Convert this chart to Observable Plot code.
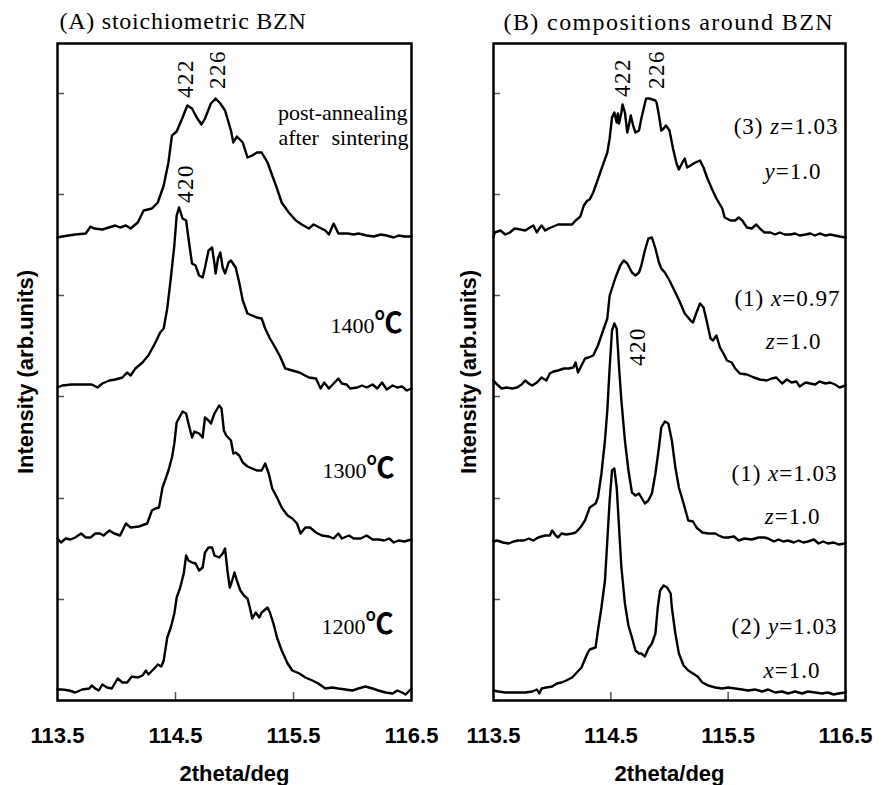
<!DOCTYPE html>
<html><head><meta charset="utf-8">
<script src="https://cdn.jsdelivr.net/npm/d3@7"></script>
<script src="https://cdn.jsdelivr.net/npm/@observablehq/plot@0.6"></script>
<style>
body{margin:0;background:#fff;}
#wrap{display:flex;width:884px;height:785px;}
g[aria-description="title-a"] text{letter-spacing:0.75px}
g[aria-description="title-b"] text{letter-spacing:1.4px}
g[aria-description="peak-labels"] text{letter-spacing:1.5px}
g[aria-description="sample-labels-b"] text{letter-spacing:1px}
</style></head><body><div id="wrap"></div>
<script>
// ---- axes ----
const xTicks = [113.5, 114.5, 115.5, 116.5];
const yTicks = [0, 101, 202, 304, 405, 506, 607];
const xLabel = "2theta/deg";
const yLabel = "Intensity (arb.units)";
const titleA = "(A) stoichiometric BZN";
const titleB = "(B) compositions around BZN";

// ---- panel A: stoichiometric BZN (2theta, stacked intensity) ----
const A_post = [[113.50,463],[113.54,464],[113.65,466],[113.74,467],[113.78,474],[113.81,472],[113.88,471],[113.99,475],[114.03,473],[114.08,475],[114.12,472],[114.18,478],[114.23,490],[114.30,492],[114.35,498],[114.40,515],[114.44,538],[114.47,565],[114.51,569],[114.56,583],[114.60,595],[114.64,592],[114.68,583],[114.72,576],[114.75,582],[114.80,597],[114.84,602],[114.88,597],[114.92,590],[114.97,570],[114.99,558],[115.02,564],[115.07,558],[115.11,543],[115.15,545],[115.19,548],[115.23,548],[115.28,538],[115.32,525],[115.36,512],[115.40,498],[115.46,488],[115.52,480],[115.57,476],[115.63,472],[115.67,476],[115.72,473],[115.77,470],[115.80,466],[115.84,477],[115.88,467],[115.96,467],[116.01,466],[116.05,467],[116.12,465],[116.18,464],[116.24,466],[116.29,465],[116.35,463],[116.39,465],[116.44,464],[116.50,464]];
const A_1400 = [[113.50,313],[113.54,315],[113.62,316],[113.74,316],[113.79,316],[113.84,313],[113.88,317],[113.94,320],[113.99,321],[114.05,323],[114.09,328],[114.12,325],[114.16,332],[114.22,338],[114.27,345],[114.33,358],[114.37,368],[114.40,372],[114.43,392],[114.46,422],[114.49,455],[114.51,485],[114.53,493],[114.56,482],[114.59,480],[114.61,462],[114.64,437],[114.67,435],[114.70,425],[114.73,423],[114.75,433],[114.78,450],[114.81,453],[114.83,437],[114.84,427],[114.86,442],[114.88,448],[114.90,433],[114.92,427],[114.95,438],[114.97,440],[115.01,433],[115.04,418],[115.07,400],[115.11,387],[115.15,385],[115.19,383],[115.23,382],[115.26,372],[115.30,362],[115.35,352],[115.39,343],[115.43,332],[115.49,330],[115.55,328],[115.63,323],[115.69,322],[115.73,312],[115.76,318],[115.80,312],[115.84,317],[115.88,322],[115.91,317],[115.95,316],[115.98,312],[116.04,313],[116.08,315],[116.12,313],[116.17,316],[116.21,312],[116.25,318],[116.29,311],[116.34,315],[116.38,313],[116.42,314],[116.46,310],[116.50,312]];
const A_1300 = [[113.50,162],[113.53,158],[113.57,162],[113.61,161],[113.65,163],[113.70,167],[113.74,163],[113.78,163],[113.82,167],[113.86,167],[113.89,165],[113.94,170],[113.98,167],[114.03,165],[114.08,177],[114.12,173],[114.19,174],[114.26,177],[114.30,190],[114.33,192],[114.36,193],[114.39,213],[114.42,223],[114.44,230],[114.47,243],[114.49,257],[114.51,278],[114.56,289],[114.59,287],[114.61,277],[114.64,263],[114.66,269],[114.70,267],[114.73,263],[114.75,283],[114.78,280],[114.80,277],[114.83,287],[114.87,295],[114.89,292],[114.91,270],[114.93,265],[114.97,260],[114.99,247],[115.01,248],[115.04,245],[115.07,238],[115.11,234],[115.15,232],[115.19,230],[115.23,230],[115.26,237],[115.29,227],[115.32,212],[115.36,203],[115.40,193],[115.45,185],[115.49,182],[115.53,177],[115.56,167],[115.60,173],[115.64,173],[115.69,168],[115.74,165],[115.80,164],[115.84,162],[115.88,167],[115.91,162],[115.97,165],[116.01,162],[116.07,162],[116.12,165],[116.17,161],[116.22,161],[116.27,160],[116.31,162],[116.35,158],[116.39,160],[116.44,159],[116.50,161]];
const A_1200 = [[113.50,11],[113.54,11],[113.60,10],[113.65,8],[113.71,11],[113.77,12],[113.79,15],[113.82,12],[113.85,10],[113.88,16],[113.92,13],[113.96,12],[114.01,22],[114.05,18],[114.09,18],[114.13,24],[114.18,23],[114.22,25],[114.25,30],[114.27,26],[114.32,32],[114.35,36],[114.38,34],[114.40,40],[114.43,63],[114.46,73],[114.49,87],[114.51,103],[114.54,113],[114.57,127],[114.59,145],[114.61,140],[114.64,138],[114.67,137],[114.70,130],[114.73,133],[114.75,148],[114.78,153],[114.81,153],[114.83,145],[114.87,143],[114.90,147],[114.92,152],[114.94,130],[114.96,113],[114.98,120],[115.00,128],[115.02,120],[115.05,110],[115.08,105],[115.11,102],[115.13,93],[115.15,82],[115.18,88],[115.21,83],[115.23,88],[115.28,93],[115.30,88],[115.33,77],[115.36,63],[115.40,50],[115.45,37],[115.49,30],[115.55,27],[115.60,23],[115.66,20],[115.71,17],[115.77,12],[115.83,13],[115.88,12],[115.94,11],[116.00,10],[116.05,12],[116.11,14],[116.17,12],[116.22,10],[116.28,8],[116.34,7],[116.38,10],[116.42,8],[116.45,6],[116.50,12]];

// ---- panel B: compositions around BZN ----
const B_z103 = [[113.50,463],[113.51,468],[113.56,470],[113.60,466],[113.64,468],[113.68,472],[113.73,471],[113.77,470],[113.81,473],[113.84,475],[113.87,468],[113.89,472],[113.91,475],[113.94,470],[113.97,472],[114.01,474],[114.05,476],[114.14,476],[114.17,476],[114.20,480],[114.24,484],[114.27,495],[114.30,500],[114.32,501],[114.35,508],[114.38,518],[114.41,528],[114.44,538],[114.47,548],[114.49,562],[114.51,583],[114.53,588],[114.55,578],[114.56,587],[114.57,577],[114.59,588],[114.60,596],[114.62,588],[114.64,568],[114.65,573],[114.67,585],[114.69,575],[114.71,568],[114.74,570],[114.76,582],[114.78,592],[114.80,602],[114.83,602],[114.88,600],[114.89,598],[114.91,585],[114.93,570],[114.95,572],[114.97,575],[115.00,570],[115.03,552],[115.06,537],[115.08,531],[115.11,538],[115.13,542],[115.15,533],[115.18,535],[115.22,538],[115.26,540],[115.29,533],[115.32,523],[115.36,512],[115.40,502],[115.45,492],[115.47,483],[115.52,480],[115.56,480],[115.59,483],[115.62,480],[115.66,473],[115.70,472],[115.74,476],[115.77,472],[115.81,468],[115.86,468],[115.90,466],[115.94,468],[115.98,466],[116.03,466],[116.07,467],[116.11,465],[116.16,466],[116.20,467],[116.24,465],[116.28,467],[116.33,465],[116.37,466],[116.41,465],[116.45,464],[116.50,463]];
const B_x097 = [[113.50,320],[113.53,316],[113.57,312],[113.61,313],[113.66,312],[113.70,313],[113.74,316],[113.77,320],[113.80,317],[113.83,315],[113.87,318],[113.91,323],[113.95,320],[113.98,327],[114.01,329],[114.05,330],[114.10,332],[114.14,332],[114.18,333],[114.20,338],[114.22,328],[114.25,335],[114.28,342],[114.31,343],[114.35,345],[114.39,355],[114.44,372],[114.47,382],[114.49,405],[114.54,423],[114.58,435],[114.61,440],[114.64,437],[114.68,428],[114.71,425],[114.74,428],[114.76,435],[114.79,450],[114.82,462],[114.85,463],[114.88,452],[114.91,438],[114.93,432],[114.96,428],[115.00,420],[115.05,408],[115.09,398],[115.13,387],[115.18,380],[115.20,378],[115.23,388],[115.26,397],[115.29,393],[115.32,378],[115.35,362],[115.37,360],[115.40,365],[115.43,353],[115.46,347],[115.49,340],[115.53,338],[115.56,332],[115.60,327],[115.66,326],[115.72,323],[115.77,321],[115.83,320],[115.87,322],[115.91,323],[115.96,317],[116.00,321],[116.04,318],[116.08,319],[116.11,314],[116.16,318],[116.20,317],[116.24,316],[116.28,319],[116.33,317],[116.37,318],[116.41,316],[116.45,313],[116.50,315]];
const B_x103 = [[113.50,159],[113.53,160],[113.58,158],[113.63,157],[113.67,159],[113.71,160],[113.76,160],[113.80,162],[113.84,160],[113.88,163],[113.94,165],[113.98,165],[114.00,170],[114.03,165],[114.05,163],[114.08,167],[114.12,166],[114.17,167],[114.20,168],[114.24,173],[114.28,180],[114.32,193],[114.37,197],[114.39,203],[114.42,227],[114.45,260],[114.47,290],[114.49,333],[114.51,370],[114.53,377],[114.55,372],[114.57,333],[114.59,300],[114.62,260],[114.65,230],[114.68,208],[114.71,205],[114.74,207],[114.76,203],[114.79,197],[114.82,200],[114.85,207],[114.88,227],[114.91,253],[114.93,273],[114.96,279],[114.99,277],[115.02,260],[115.05,233],[115.08,213],[115.12,197],[115.16,180],[115.20,179],[115.23,173],[115.28,168],[115.33,167],[115.39,167],[115.42,165],[115.46,163],[115.50,163],[115.55,164],[115.59,160],[115.64,162],[115.70,161],[115.76,163],[115.81,163],[115.84,162],[115.89,159],[115.93,161],[115.97,159],[116.01,160],[116.06,158],[116.10,160],[116.14,158],[116.18,159],[116.23,161],[116.27,157],[116.31,159],[116.35,157],[116.40,158],[116.44,156],[116.50,157]];
const B_y103 = [[113.50,10],[113.54,9],[113.60,8],[113.66,8],[113.71,8],[113.77,8],[113.83,9],[113.87,11],[113.89,7],[113.91,12],[113.95,13],[114.00,14],[114.04,17],[114.08,18],[114.12,20],[114.17,23],[114.21,28],[114.25,33],[114.30,47],[114.32,51],[114.37,53],[114.39,70],[114.42,93],[114.45,120],[114.47,160],[114.49,200],[114.51,230],[114.53,232],[114.55,213],[114.57,173],[114.59,133],[114.62,97],[114.65,75],[114.68,63],[114.71,50],[114.74,47],[114.76,47],[114.79,44],[114.82,52],[114.85,57],[114.88,67],[114.90,93],[114.92,110],[114.95,115],[114.98,113],[115.01,107],[115.02,93],[115.05,67],[115.08,47],[115.12,35],[115.16,30],[115.20,27],[115.24,24],[115.28,18],[115.33,15],[115.39,13],[115.45,12],[115.50,13],[115.56,12],[115.62,11],[115.67,10],[115.73,11],[115.79,9],[115.84,11],[115.90,8],[115.96,9],[116.01,7],[116.07,9],[116.13,7],[116.18,9],[116.24,8],[116.30,7],[116.35,8],[116.40,6],[116.44,7],[116.50,8]];

// ---- annotations (anchored in data units) ----
const peakLabelsA = [{x:114.585,y:622,text:"422"},{x:114.860,y:631,text:"226"},{x:114.585,y:517,text:"420"}];
const peakLabelsB = [{x:114.599,y:623,text:"422"},{x:114.889,y:631,text:"226"},{x:114.727,y:354,text:"420"}];
const sampleEndA = [{x:116.466,y:581,text:"post-annealing"},{x:116.475,y:556,text:"sintering"}];
const sampleStartA = [{x:115.373,y:556,text:"after"}];
const tempLabelsA = [{x:116.424,y:368,text:"1400℃"},{x:116.356,y:223,text:"1300℃"},{x:116.347,y:67,text:"1200℃"}];
const sampleLabelsB = [
  {x:116.440,y:567,text:"(3) z=1.03"},{x:116.295,y:522,text:"y=1.0"},
  {x:116.457,y:395,text:"(1) x=0.97"},{x:116.295,y:352,text:"z=1.0"},
  {x:116.432,y:220,text:"(1) x=1.03"},{x:116.287,y:177,text:"z=1.0"},
  {x:116.432,y:67,text:"(2) y=1.03"},{x:116.287,y:23,text:"x=1.0"}
];

const SERIF = "'Liberation Serif', 'Times New Roman', serif";
const SANS = "'Liberation Sans', Arial, sans-serif";

function panel({curves, title, titleDesc, titleDx, titleDy, marginLeft, marginRight, yLabelDx, extra}) {
  const frameW = 442 - marginLeft - marginRight;
  return Plot.plot({
    width: 442, height: 785,
    marginLeft, marginRight, marginTop: 43, marginBottom: 85,
    x: {domain: [113.5, 116.5], axis: null},
    y: {domain: [0, 657], axis: null},
    marks: [
      Plot.tickY(yTicks, {y: d => d, stroke: "#555", strokeWidth: 1.5, insetRight: frameW - 7}),
      Plot.tickX(xTicks, {x: d => d, stroke: "#555", strokeWidth: 1.5, insetTop: 657 - 8}),
      ...curves.map(c => Plot.line(c, {x: d => d[0], y: d => d[1], stroke: "black", strokeWidth: 2.4, strokeLinejoin: "round"})),
      Plot.frame({stroke: "black", strokeWidth: 2.5}),
      Plot.text(xTicks, {x: d => d, frameAnchor: "bottom", dy: 42, lineAnchor: "bottom", text: d => d.toFixed(1), fontFamily: SANS, fontWeight: "bold", fontSize: 22, fill: "black"}),
      Plot.text([xLabel], {frameAnchor: "bottom", dy: 80, lineAnchor: "bottom", text: d => d, fontFamily: SANS, fontWeight: "bold", fontSize: 22, fill: "black"}),
      Plot.text([yLabel], {frameAnchor: "left", dx: yLabelDx, rotate: -90, textAnchor: "middle", lineAnchor: "middle", text: d => d, fontFamily: SANS, fontWeight: "bold", fontSize: 22, fill: "black"}),
      Plot.text([title], {frameAnchor: "top-left", dx: titleDx, dy: titleDy, textAnchor: "start", lineAnchor: "bottom", text: d => d, fontFamily: SERIF, fontSize: 24, fill: "black", ariaDescription: titleDesc}),
      ...extra
    ]
  });
}

function richText(svg) {
  d3.select(svg).selectAll("text").each(function() {
    const t = this.textContent;
    const s = d3.select(this);
    let m;
    if (t.includes("℃")) {
      this.textContent = "";
      s.append("tspan").text(t.replace("℃", ""));
      s.append("tspan").attr("font-family", "'Noto Sans CJK JP', sans-serif").attr("font-weight", "bold").attr("font-size", 28).text("℃");
    } else if ((m = t.match(/^(\(\d\) )?([xyz])(=[\d.]+)$/))) {
      this.textContent = "";
      if (m[1]) s.append("tspan").text(m[1]);
      s.append("tspan").attr("font-style", "italic").text(m[2]);
      s.append("tspan").text(m[3]);
    }
  });
  return svg;
}

const peakOpts = {x: "x", y: "y", text: "text", rotate: -90, textAnchor: "middle", lineAnchor: "middle", fontFamily: SERIF, fontSize: 23, fill: "black", ariaDescription: "peak-labels"};

const svgA = panel({
  curves: [A_post, A_1400, A_1300, A_1200],
  title: titleA, titleDesc: "title-a", titleDx: 2, titleDy: -15,
  marginLeft: 57, marginRight: 31, yLabelDx: -31.5,
  extra: [
    Plot.text(peakLabelsA, peakOpts),
    Plot.text(sampleEndA, {x: "x", y: "y", text: "text", textAnchor: "end", lineAnchor: "bottom", fontFamily: SERIF, fontSize: 22, fill: "black"}),
    Plot.text(sampleStartA, {x: "x", y: "y", text: "text", textAnchor: "start", lineAnchor: "bottom", fontFamily: SERIF, fontSize: 22, fill: "black"}),
    Plot.text(tempLabelsA, {x: "x", y: "y", text: "text", textAnchor: "end", lineAnchor: "bottom", fontFamily: SERIF, fontSize: 22, fill: "black"})
  ]
});
const svgB = panel({
  curves: [B_z103, B_x097, B_x103, B_y103],
  title: titleB, titleDesc: "title-b", titleDx: 10, titleDy: -14,
  marginLeft: 51, marginRight: 39, yLabelDx: -24.5,
  extra: [
    Plot.text(peakLabelsB, peakOpts),
    Plot.text(sampleLabelsB, {x: "x", y: "y", text: "text", textAnchor: "end", lineAnchor: "bottom", fontFamily: SERIF, fontSize: 23, fill: "black", ariaDescription: "sample-labels-b"})
  ]
});
const wrap = document.getElementById("wrap");
wrap.appendChild(richText(svgA));
wrap.appendChild(richText(svgB));
</script>
</body></html>
